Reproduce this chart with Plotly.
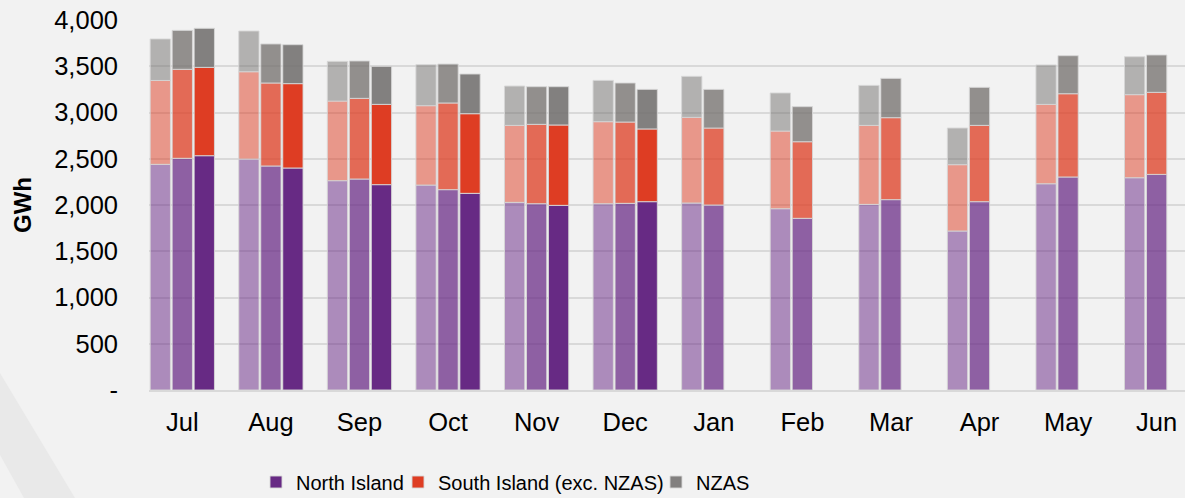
import plotly.graph_objects as go

months = ["Jul", "Aug", "Sep", "Oct", "Nov", "Dec", "Jan", "Feb", "Mar", "Apr", "May", "Jun"]

# Year 1 (lightest)
ni_y1 = [2440, 2497, 2263, 2216, 2029, 2014, 2022, 1960, 2007, 1719, 2230, 2295]
si_y1 = [907, 944, 861, 858, 832, 887, 926, 840, 854, 717, 858, 898]
nzas_y1 = [448, 440, 429, 443, 425, 446, 443, 411, 432, 396, 426, 410]
# Year 2
ni_y2 = [2505, 2422, 2281, 2166, 2014, 2018, 2000, 1856, 2058, 2036, 2303, 2331]
si_y2 = [962, 897, 872, 937, 858, 879, 832, 828, 886, 825, 900, 887]
nzas_y2 = [421, 422, 404, 421, 407, 422, 418, 379, 425, 411, 411, 404]
# Year 3 (darkest, Jul-Dec only)
ni_y3 = [2533, 2400, 2220, 2126, 1996, 2036, None, None, None, None, None, None]
si_y3 = [955, 912, 868, 861, 869, 786, None, None, None, None, None, None]
nzas_y3 = [422, 421, 411, 429, 414, 428, None, None, None, None, None, None]

series_names = ["North Island", "South Island (exc. NZAS)", "NZAS"]
y_tickvals = [0, 500, 1000, 1500, 2000, 2500, 3000, 3500, 4000]
y_ticktext = ["-", "500", "1,000", "1,500", "2,000", "2,500", "3,000", "3,500", "4,000"]

colors = {
    1: ["rgba(102,36,131,0.5)", "rgba(221,60,34,0.5)", "rgba(114,111,109,0.5)"],
    2: ["rgba(102,36,131,0.71)", "rgba(221,60,34,0.75)", "rgba(114,109,107,0.75)"],
    3: ["rgb(103,42,132)", "rgb(222,61,35)", "rgba(114,112,110,0.88)"],
}

years = {1: (ni_y1, si_y1, nzas_y1), 2: (ni_y2, si_y2, nzas_y2), 3: (ni_y3, si_y3, nzas_y3)}
legend_ids = ["legend", "legend2", "legend3"]

fig = go.Figure()
for yr, (ni, si, nz) in years.items():
    base_si = ni
    base_nz = [None if a is None else a + b for a, b in zip(ni, si)]
    for k, (vals, base) in enumerate([(ni, None), (si, base_si), (nz, base_nz)]):
        fig.add_trace(go.Bar(
            x=months, y=vals, base=base,
            name=series_names[k],
            offsetgroup=str(yr),
            marker=dict(color=colors[yr][k], line=dict(color="rgba(215,215,215,0.9)", width=1)),
            showlegend=(yr == 3),
            legend=legend_ids[k],
        ))

W, H = 1185, 498
L, R, T, B = 149, 0, 20, 108
pw = W - L - R
ph = H - T - B

def px_to_paper(xp, yp):
    return (xp - L) / pw, (H - B - yp) / ph

band = [(0, 373), (75, 498), (24, 498), (0, 455)]
pts = [px_to_paper(a, b) for a, b in band]
path = "M " + " L ".join(f"{a},{b}" for a, b in pts) + " Z"

def legend_at(xpx):
    return dict(
        orientation="h",
        xref="container", yref="container",
        x=xpx / W, y=(H - 482) / H,
        xanchor="left", yanchor="middle",
        font=dict(size=20, family="Liberation Sans, Arial, sans-serif"),
        bgcolor="rgba(0,0,0,0)",
        itemwidth=30,
    )

fig.update_layout(
    width=W, height=H,
    margin=dict(l=L, r=R, t=T, b=B),
    paper_bgcolor="#f2f2f2",
    plot_bgcolor="rgba(0,0,0,0)",
    barmode="group",
    bargap=0.255,
    bargroupgap=0.078,
    font=dict(family="Liberation Sans, Arial, sans-serif", color="#000000"),
    shapes=[dict(type="path", path=path, xref="paper", yref="paper",
                 fillcolor="#e9e9e9", line=dict(width=0), layer="below")],
    xaxis=dict(
        range=[-0.376, 11.32],
        showgrid=False,
        showline=True, linecolor="#d9d9d9", linewidth=2,
        tickfont=dict(size=25.5),
        ticks="", ticklabelstandoff=8,
        fixedrange=True,
    ),
    yaxis=dict(
        range=[0, 4000],
        tickvals=y_tickvals, ticktext=y_ticktext,
        showgrid=True, gridcolor="#d9d9d9", gridwidth=2,
        zeroline=False,
        tickfont=dict(size=25.5),
        ticks="", ticklabelstandoff=30,
        fixedrange=True,
    ),
    annotations=[dict(
        text="<b>GWh</b>", textangle=-90, showarrow=False,
        xref="paper", yref="paper",
        x=px_to_paper(22, 0)[0], y=px_to_paper(0, 205)[1],
        xanchor="center", yanchor="middle",
        font=dict(size=24, family="Liberation Sans, Arial, sans-serif"),
    )],
    legend=legend_at(256),
    legend2=legend_at(398),
    legend3=legend_at(656),
)

fig.write_html(
    "out.html",
    config={"displayModeBar": False},
    post_script="document.body.style.margin='0';document.body.style.padding='0';document.body.style.overflow='hidden';",
)
